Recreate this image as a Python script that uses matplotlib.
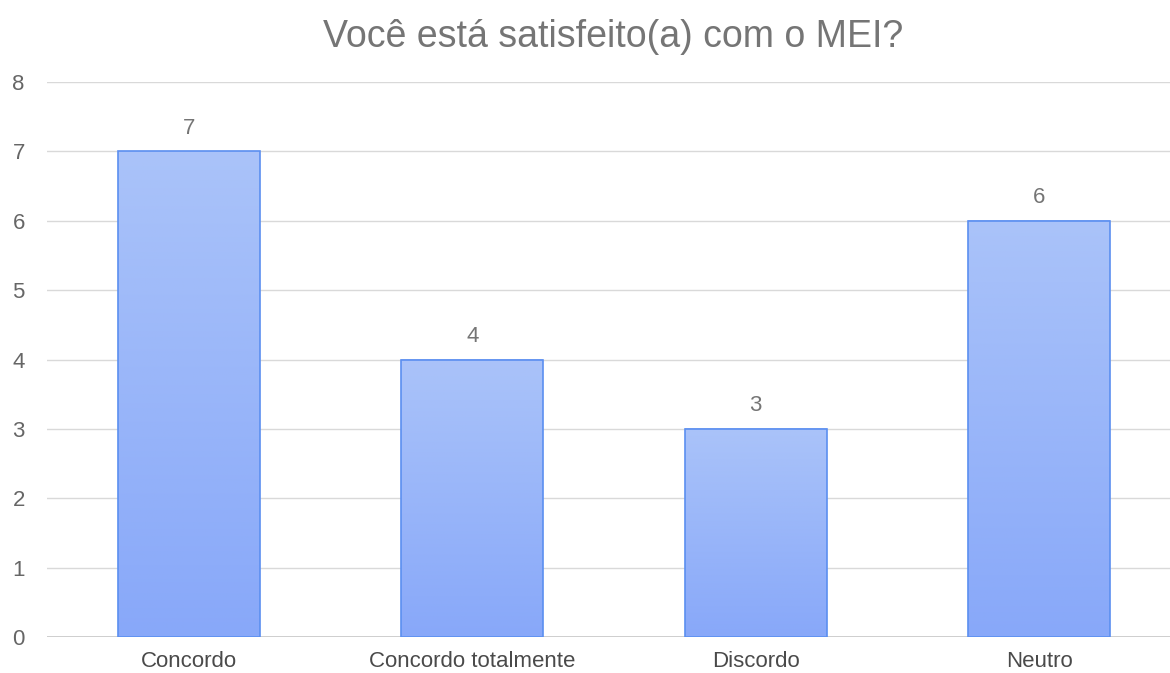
import numpy as np
import matplotlib.pyplot as plt
from matplotlib.colors import LinearSegmentedColormap

plt.rcParams['font.family'] = ['Liberation Sans', 'DejaVu Sans']

categories = ['Concordo', 'Concordo totalmente', 'Discordo', 'Neutro']
values = [7, 4, 3, 6]
title = 'Você está satisfeito(a) com o MEI?'

W, H = 1170, 673
fig = plt.figure(figsize=(W / 100, H / 100), dpi=100)
ax = fig.add_axes([47 / W, 1 - 637 / H, (W - 47) / W, (637 - 82) / H])

# gradient per bar: light at top, deeper at bottom
cmap = LinearSegmentedColormap.from_list('g', ['#88a8f9', '#aac3f9'])
grad = np.linspace(0, 1, 256).reshape(-1, 1)
bw = 0.5
for i, v in enumerate(values):
    ax.imshow(grad, cmap=cmap, origin='lower', aspect='auto',
              extent=(i - bw / 2, i + bw / 2, 0, v), zorder=2)
    ax.add_patch(plt.Rectangle((i - bw / 2, 0), bw, v, fill=False,
                               edgecolor='#5b8ff0', linewidth=1.2, zorder=3))
    ax.text(i, v + 0.33, str(v), ha='center', va='center', fontsize=16,
            color='#757575')

ax.set_xlim(-0.5, 3.461)
ax.set_ylim(0, 8)
ax.set_yticks(range(0, 9))
ax.set_xticks(range(len(categories)))
ax.set_xticklabels(categories)
ax.tick_params(axis='both', length=0, labelsize=16, colors='#4a4a4a')
ax.tick_params(axis='x', pad=10)
ax.tick_params(axis='y', pad=16)
for lab in ax.get_yticklabels():
    lab.set_color('#666666')
ax.grid(axis='y', color='#d9d9d9', linewidth=1, zorder=0)
ax.set_axisbelow(True)
for s in ax.spines.values():
    s.set_visible(False)
ax.axhline(0, color='#c8c8c8', linewidth=1.2, zorder=1)

fig.text(0.524, 1 - 37 / H, title, ha='center', va='center', fontsize=27,
         color='#757575')

fig.savefig('out.png', dpi=100)
